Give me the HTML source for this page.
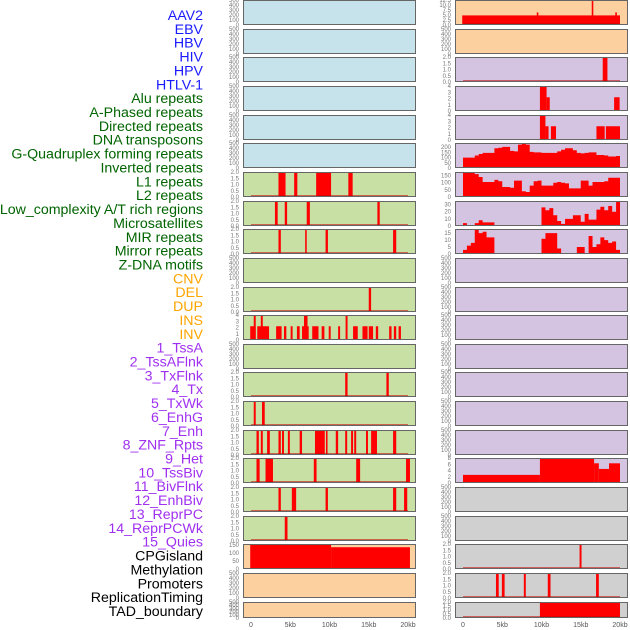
<!DOCTYPE html>
<html><head><meta charset="utf-8"><style>
html,body{margin:0;padding:0;background:#fff;width:630px;height:630px;overflow:hidden}
svg{display:block}
</style></head><body>
<svg id="c" width="630" height="630" xmlns="http://www.w3.org/2000/svg"></svg>
<script>
// ---------- data ----------
const trackLabels = ["AAV2","EBV","HBV","HIV","HPV","HTLV-1","Alu repeats","A-Phased repeats","Directed repeats","DNA transposons","G-Quadruplex forming repeats","Inverted repeats","L1 repeats","L2 repeats","Low_complexity A/T rich regions","Microsatellites","MIR repeats","Mirror repeats","Z-DNA motifs","CNV","DEL","DUP","INS","INV","1_TssA","2_TssAFlnk","3_TxFlnk","4_Tx","5_TxWk","6_EnhG","7_Enh","8_ZNF_Rpts","9_Het","10_TssBiv","11_BivFlnk","12_EnhBiv","13_ReprPC","14_ReprPCWk","15_Quies","CPGisland","Methylation","Promoters","ReplicationTiming","TAD_boundary"];
const labelGroups = ["v","v","v","v","v","v","r","r","r","r","r","r","r","r","r","r","r","r","r","s","s","s","s","s","c","c","c","c","c","c","c","c","c","c","c","c","c","c","c","o","o","o","o","o"];
const xTickLabels = ["0","5kb","10kb","15kb","20kb"];
const xTickValues = [0,5,10,15,20];
// intervals [startKb, endKb, value]
const l1Left = [[3.5,4.4,2],[5.5,5.9,2],[8.3,10.2,2],[12.4,12.95,2]];
const l2Left = [[3.05,3.4,2],[4.3,4.6,2],[7.1,7.5,2],[16.1,16.4,2]];
const lowCompLeft = [[3.5,3.8,2],[6.9,7.1,2],[9.5,9.8,2],[18.1,18.5,2]];
const delLeft = [[15.0,15.3,2]];
const insLeft = [[-0.1,0.6,2.2],[0.35,0.6,4],[0.8,2.3,2.2],[1.25,1.5,4],[3.2,3.9,2.2],[4.2,4.5,2.2],[5.05,5.3,2.2],[5.85,6.2,2.2],[6.5,7.35,2.2],[6.75,7.2,4],[7.8,8.6,2.2],[9.0,9.35,2.2],[9.9,10.15,2.2],[11.1,11.35,2.2],[12.05,12.3,4],[13.0,13.6,2.2],[14.2,14.85,2.2],[15.0,15.55,2.2],[15.9,16.2,2.2],[17.6,17.9,2.2],[18.2,18.5,2.2],[18.8,19.1,2.2]];
const txFlnkLeft = [[12.0,12.3,2],[17.25,17.55,2]];
const txWkLeft = [[0.35,0.6,2],[1.4,1.75,2]];
const enhLeft = [[0.7,1.0,2],[1.25,1.5,2],[2.05,2.4,2],[3.5,3.8,2],[3.95,4.2,2],[4.7,4.95,2],[6.2,6.5,2],[8.15,9.4,2],[9.55,9.75,2],[10.8,11.1,2],[12.0,12.25,2],[12.75,13.0,2],[13.15,13.4,2],[14.65,14.9,2],[15.3,16.05,2],[18.1,18.5,2]];
const hetLeft = [[0.7,1.1,2],[1.85,2.8,2],[8.0,8.35,2],[13.4,13.9,2],[19.75,20.25,2]];
const tssBivLeft = [[3.5,3.8,2],[5.2,5.75,2],[9.5,9.8,2],[18.1,18.5,2],[19.5,19.9,2]];
const enhBivLeft = [[4.3,4.65,2]];
const cpgLeft = [[-0.1,10.2,160],[10.2,20.25,135]];
const aavRight = [[-0.1,20.0,4.8],[9.4,9.6,6.3],[16.4,16.6,13],[19.4,19.6,6.3]];
const hivRight = [[17.8,18.4,2]];
const aluRight = [[9.8,10.65,4],[10.65,11.05,2.2],[19.25,19.95,2.2]];
const aPhasedRight = [[9.8,10.5,4],[10.5,10.9,2.2],[11.2,11.85,2.2],[17.0,18.05,2.2],[18.2,20.0,2.2]];
const hetRight = [[0,9.8,2.6],[9.8,16.7,8],[16.7,17.3,6.3],[17.3,18.6,4.5],[18.6,20.0,6.3]];
const cpgRight = [[14.85,15.1,2]];
const methRight = [[4.2,4.55,2],[4.95,5.3,2],[7.75,8.0,2],[10.8,11.15,2],[16.95,17.3,2]];
const tadRight = [[9.8,20.0,2]];
// step profiles at 0.5kb bins
const gquadRight = [100,100,100,120,135,145,145,145,190,195,203,203,165,160,225,235,225,155,150,150,145,145,145,145,160,175,190,190,170,145,140,145,150,150,125,125,120,110,110,115];
const l1Right = [170,170,170,160,140,105,105,105,120,110,70,70,65,115,115,40,35,80,110,115,80,80,80,100,105,100,95,60,60,60,115,115,80,105,105,105,110,135,135,135];
const lowCompRight = [4,0,0,4,8,5,5,5,0,0,0,0,0,0,0,0,0,0,0,0,26,22,25,15,7,3,10,10,15,15,6,17,9,9,23,27,22,28,20,35];
const mirRight = [3,6,8,18,15,16,12,12,0,0,0,0,0,0,0,0,0,0,0,0,11,15,15,15,4,0,0,0,0,5,5,0,13,5,7,12,10,8,9,3];
const emptyTicks = [0,100,200,300,400,500];
const twoTicks = [0,0.5,1,1.5,2];
const fourTicks = [0,1,2,3,4];

const BLUE="#c6e3ec",GREEN="#c8e0a4",ORANGE="#fdd09f",PURPLE="#d4c4e2",GRAY="#d0d0d0";
const colLeft=[],colRight=[];
for(let i=0;i<6;i++) colLeft.push({bg:BLUE});
colLeft.push({bg:GREEN,ymax:2,ticks:twoTicks,iv:l1Left,d:1});
colLeft.push({bg:GREEN,ymax:2,ticks:twoTicks,iv:l2Left,d:1});
colLeft.push({bg:GREEN,ymax:2,ticks:twoTicks,iv:lowCompLeft,d:1});
colLeft.push({bg:GREEN});
colLeft.push({bg:GREEN,ymax:2,ticks:twoTicks,iv:delLeft,d:1});
colLeft.push({bg:GREEN,ymax:4,ticks:fourTicks,iv:insLeft,d:0});
colLeft.push({bg:GREEN});
colLeft.push({bg:GREEN,ymax:2,ticks:twoTicks,iv:txFlnkLeft,d:1});
colLeft.push({bg:GREEN,ymax:2,ticks:twoTicks,iv:txWkLeft,d:1});
colLeft.push({bg:GREEN,ymax:2,ticks:twoTicks,iv:enhLeft,d:1});
colLeft.push({bg:GREEN,ymax:2,ticks:twoTicks,iv:hetLeft,d:1});
colLeft.push({bg:GREEN,ymax:2,ticks:twoTicks,iv:tssBivLeft,d:1});
colLeft.push({bg:GREEN,ymax:2,ticks:twoTicks,iv:enhBivLeft,d:1});
colLeft.push({bg:ORANGE,ymax:155,ticks:[0,50,100,150],iv:cpgLeft,d:0});
colLeft.push({bg:ORANGE});
colLeft.push({bg:ORANGE});

colRight.push({bg:ORANGE,ymax:12.5,ticks:[0,2.5,5,7.5,10,12.5],iv:aavRight,d:1});
colRight.push({bg:ORANGE});
colRight.push({bg:PURPLE,ymax:2,ticks:twoTicks,iv:hivRight,d:1});
colRight.push({bg:PURPLE,ymax:4,ticks:fourTicks,iv:aluRight,d:0});
colRight.push({bg:PURPLE,ymax:4,ticks:fourTicks,iv:aPhasedRight,d:0});
colRight.push({bg:PURPLE,ymax:240,ticks:[0,50,100,150,200],prof:gquadRight,d:0});
colRight.push({bg:PURPLE,ymax:175,ticks:[0,50,100,150],prof:l1Right,d:0});
colRight.push({bg:PURPLE,ymax:35,ticks:[0,10,20,30],prof:lowCompRight,d:0});
colRight.push({bg:PURPLE,ymax:18,ticks:[0,5,10,15],prof:mirRight,d:0});
for(let i=9;i<16;i++) colRight.push({bg:PURPLE});
colRight.push({bg:PURPLE,ymax:8,ticks:[0,2,4,6,8],iv:hetRight,d:0});
colRight.push({bg:GRAY});
colRight.push({bg:GRAY});
colRight.push({bg:GRAY,ymax:2,ticks:twoTicks,iv:cpgRight,d:1});
colRight.push({bg:GRAY,ymax:2,ticks:twoTicks,iv:methRight,d:1});
colRight.push({bg:GRAY,ymax:2,ticks:twoTicks,iv:tadRight,d:1});

// ---------- drawing ----------
const svg=document.getElementById('c');
const NS="http://www.w3.org/2000/svg";
function mk(tag,attrs,parent){const e=document.createElementNS(NS,tag);for(const k in attrs)e.setAttribute(k,attrs[k]);(parent||svg).appendChild(e);return e;}
const groupColor={v:"#1a1aff",r:"#006400",s:"#ffa500",c:"#a030f0",o:"#000"};
trackLabels.forEach((t,i)=>{
  const e=mk('text',{x:203,y:20+i*13.86,'text-anchor':'end','font-family':'Liberation Sans, sans-serif','font-size':14.2,fill:groupColor[labelGroups[i]]});
  e.textContent=t;
  
  
});
function panelTop(i){return Math.round(i*28.65);}
function drawCol(panels,left,side){
  const W=173, x0=left+8, kbpx=7.85;
  const xs=kb=>x0+kb*kbpx;
  panels.forEach((p,i)=>{
    const top=panelTop(i), h=(i===21)?16:25, bottom=top+h;
    const g=mk('g',{});
    
    
    mk('rect',{x:left,y:top,width:W,height:h,fill:p.bg},g);
    const ymax=p.ymax||500, ticks=p.ticks||emptyTicks;
    const ys=v=>bottom-Math.min(v,ymax)/ymax*h;
    if(p.iv){
      p.iv.forEach(a=>{
        const r=mk('rect',{x:xs(a[0]),y:ys(a[2]),width:Math.max(xs(a[1])-xs(a[0]),1.5),height:bottom-ys(a[2]),fill:'#ff0000'},g);
        
        
      });
    }
    if(p.prof){
      let d='M'+xs(0)+','+bottom;
      p.prof.forEach((v,k)=>{d+=' L'+xs(k*0.5)+','+ys(v)+' L'+xs(k*0.5+0.5)+','+ys(v);});
      d+=' L'+xs(20)+','+bottom+' Z';
      const a=mk('path',{d:d,fill:'#ff0000'},g);
      
      
    }
    if(p.d){mk('line',{x1:xs(0),x2:xs(20),y1:bottom-1,y2:bottom-1,stroke:'rgba(200,0,0,0.55)','stroke-width':2},g);}
    mk('rect',{x:left+0.5,y:top+0.5,width:W-1,height:h-1,fill:'none',stroke:'#666','stroke-width':1},g);
    ticks.forEach(t=>{
      const lab=(ymax<=2.5||ymax===12.5)?t.toFixed(1):String(t);
      const e=mk('text',{x:left-4,y:ys(t)+2,'text-anchor':'end','font-family':'Liberation Sans, sans-serif','font-size':6,fill:'#777'},g);
      e.textContent=lab;
      
      
    });
  });
  xTickValues.forEach((v,k)=>{
    const e=mk('text',{x:xs(v),y:627,'text-anchor':'middle','font-family':'Liberation Sans, sans-serif','font-size':7,fill:'#555'});
    e.textContent=xTickLabels[k];
    
    
  });
}
drawCol(colLeft,243,'left');
drawCol(colRight,455,'right');
</script>
</body></html>
